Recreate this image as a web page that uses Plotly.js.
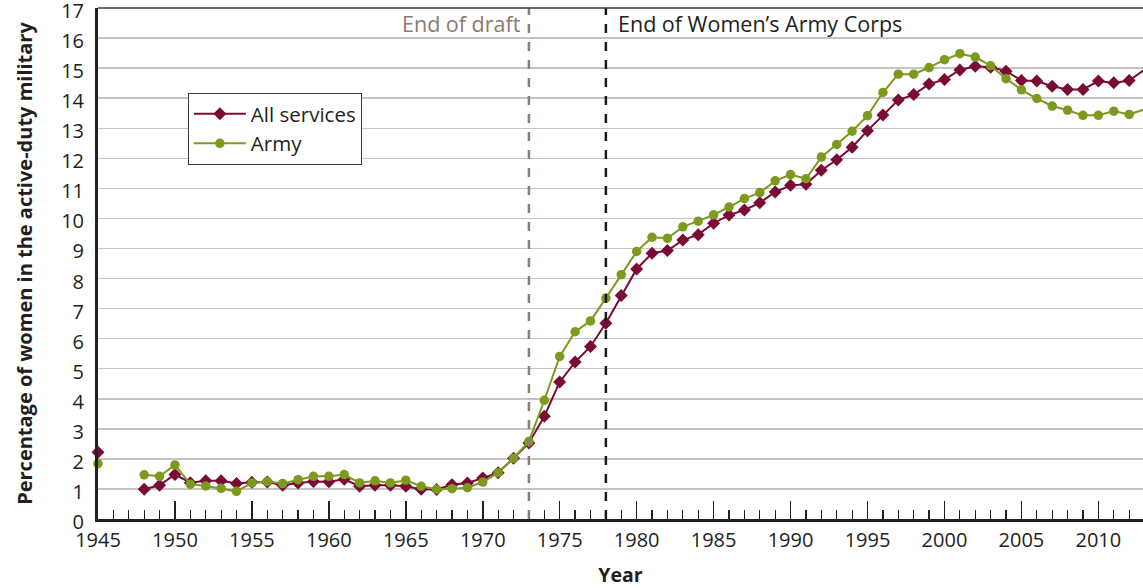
<!DOCTYPE html>
<html>
<head>
<meta charset="utf-8">
<script src="https://cdn.plot.ly/plotly-3.0.1.min.js"></script>
<style>
html,body{margin:0;padding:0;background:#fff;}
#chart{width:1143px;height:588px;}
</style>
</head>
<body>
<div id="chart"></div>
<script>
// Years (1946 and 1947 have no data -> null, leaving a gap)
const years = [1945,1946,1947,1948,1949,1950,1951,1952,1953,1954,1955,1956,1957,1958,1959,1960,
  1961,1962,1963,1964,1965,1966,1967,1968,1969,1970,1971,1972,1973,1974,1975,1976,1977,
  1978,1979,1980,1981,1982,1983,1984,1985,1986,1987,1988,1989,1990,1991,1992,1993,1994,
  1995,1996,1997,1998,1999,2000,2001,2002,2003,2004,2005,2006,2007,2008,2009,2010,2011,
  2012,2013];

const allServices = [2.22,null,null,0.99,1.12,1.48,1.21,1.27,1.27,1.18,1.22,1.23,1.12,1.2,1.25,1.24,
  1.32,1.09,1.12,1.12,1.09,0.99,0.98,1.14,1.2,1.36,1.54,2.02,2.53,3.42,4.56,5.22,5.74,
  6.51,7.44,8.32,8.84,8.93,9.28,9.46,9.84,10.11,10.28,10.52,10.88,11.1,11.14,11.6,11.95,12.37,
  12.92,13.44,13.94,14.12,14.47,14.62,14.94,15.06,15.03,14.9,14.59,14.57,14.4,14.29,14.29,14.57,14.51,
  14.59,14.95];

const army = [1.84,null,null,1.47,1.42,1.8,1.16,1.1,1.02,0.92,1.2,1.25,1.18,1.31,1.42,1.42,
  1.48,1.2,1.27,1.2,1.29,1.09,0.99,1.01,1.04,1.23,1.54,2.02,2.58,3.95,5.41,6.23,6.59,
  7.35,8.13,8.9,9.37,9.34,9.72,9.91,10.12,10.38,10.66,10.86,11.25,11.46,11.32,12.04,12.46,12.9,
  13.42,14.19,14.8,14.8,15.02,15.28,15.48,15.37,15.08,14.65,14.28,13.99,13.74,13.6,13.43,13.43,13.57,
  13.46,13.63];

const seriesNames = ['All services','Army'];
const draftYear = 1973;
const wacYear = 1978;
const eventLabels = ['End of draft','End of Women’s Army Corps'];
const yTicks = [0,1,2,3,4,5,6,7,8,9,10,11,12,13,14,15,16,17];
const xTicks = [1945,1950,1955,1960,1965,1970,1975,1980,1985,1990,1995,2000,2005,2010];

const FONT = 'Open Sans, Lato, sans-serif';
const DARK = '#231f20';
const MAROON = '#7a0a36';
const GREEN = '#7c9a1e';

const traces = [
  {x: years, y: allServices, name: seriesNames[0], type:'scatter', mode:'lines+markers',
   line:{color:MAROON, width:2}, marker:{symbol:'diamond', size:10, color:MAROON},
   cliponaxis:false, connectgaps:false},
  {x: years, y: army, name: seriesNames[1], type:'scatter', mode:'lines+markers',
   line:{color:GREEN, width:2}, marker:{symbol:'circle', size:9.5, color:GREEN},
   cliponaxis:false, connectgaps:false}
];

const layout = {
  width:1143, height:588,
  margin:{l:98, r:0, t:8, b:68.5},
  paper_bgcolor:'#fff', plot_bgcolor:'#fff',
  font:{family:FONT, color:DARK, size:20.5},
  showlegend:true,
  legend:{x:0.086, y:0.834, xanchor:'left', yanchor:'top', bgcolor:'#fff',
    bordercolor:'#3a3a3a', borderwidth:1, font:{family:FONT, size:20.5, color:DARK},
    tracegroupgap:0, itemwidth:52},
  xaxis:{range:[1945,2012.9], tickvals:xTicks, ticktext:xTicks.map(String),
    ticks:'inside', ticklen:18, tickwidth:1.5, tickcolor:DARK,
    minor:{dtick:1, tick0:1945, ticks:'inside', ticklen:9, tickwidth:1.2, tickcolor:DARK, showgrid:false},
    showgrid:false, zeroline:false, showline:true, linecolor:DARK, linewidth:3,
    tickfont:{family:FONT, size:20, color:DARK}, ticklabelstandoff:1,
    title:{text:'<b>Year</b>', font:{family:FONT, size:19.5, color:DARK}, standoff:17}},
  yaxis:{range:[0,17.001], tickvals:yTicks, ticktext:yTicks.map(String),
    ticks:'', showgrid:true, gridcolor:'#c4c4c4', gridwidth:1.5, zeroline:false,
    showline:true, linecolor:DARK, linewidth:3, ticklabeloverflow:'allow',
    tickfont:{family:FONT, size:20, color:DARK}, ticklabelstandoff:7, ticklabelshift:3,
    title:{text:'<b>Percentage of women in the active-duty military</b>',
      font:{family:FONT, size:20, color:DARK}, standoff:24}},
  shapes:[
    {type:'line', xref:'x', yref:'paper', x0:draftYear, x1:draftYear, y0:0, y1:1,
     line:{color:'#8c7d70', width:2.5, dash:'dash'}},
    {type:'line', xref:'x', yref:'paper', x0:wacYear, x1:wacYear, y0:0, y1:1,
     line:{color:'#1a1a1a', width:2.5, dash:'dash'}},
    {type:'line', xref:'paper', yref:'paper', x0:0, x1:1, y0:1, y1:1,
     line:{color:'#3a3a3a', width:1.5}, layer:'above'}
  ],
  annotations:[
    {x:draftYear, y:16.47, xref:'x', yref:'y', text:eventLabels[0], showarrow:false,
     xanchor:'right', yanchor:'middle', xshift:-6, font:{family:FONT, size:21.5, color:'#8a7b6e'}},
    {x:wacYear, y:16.47, xref:'x', yref:'y', text:eventLabels[1], showarrow:false,
     xanchor:'left', yanchor:'middle', xshift:10, font:{family:FONT, size:21.5, color:DARK}}
  ]
};

Plotly.newPlot('chart', traces, layout, {displayModeBar:false, staticPlot:true});
</script>
</body>
</html>
